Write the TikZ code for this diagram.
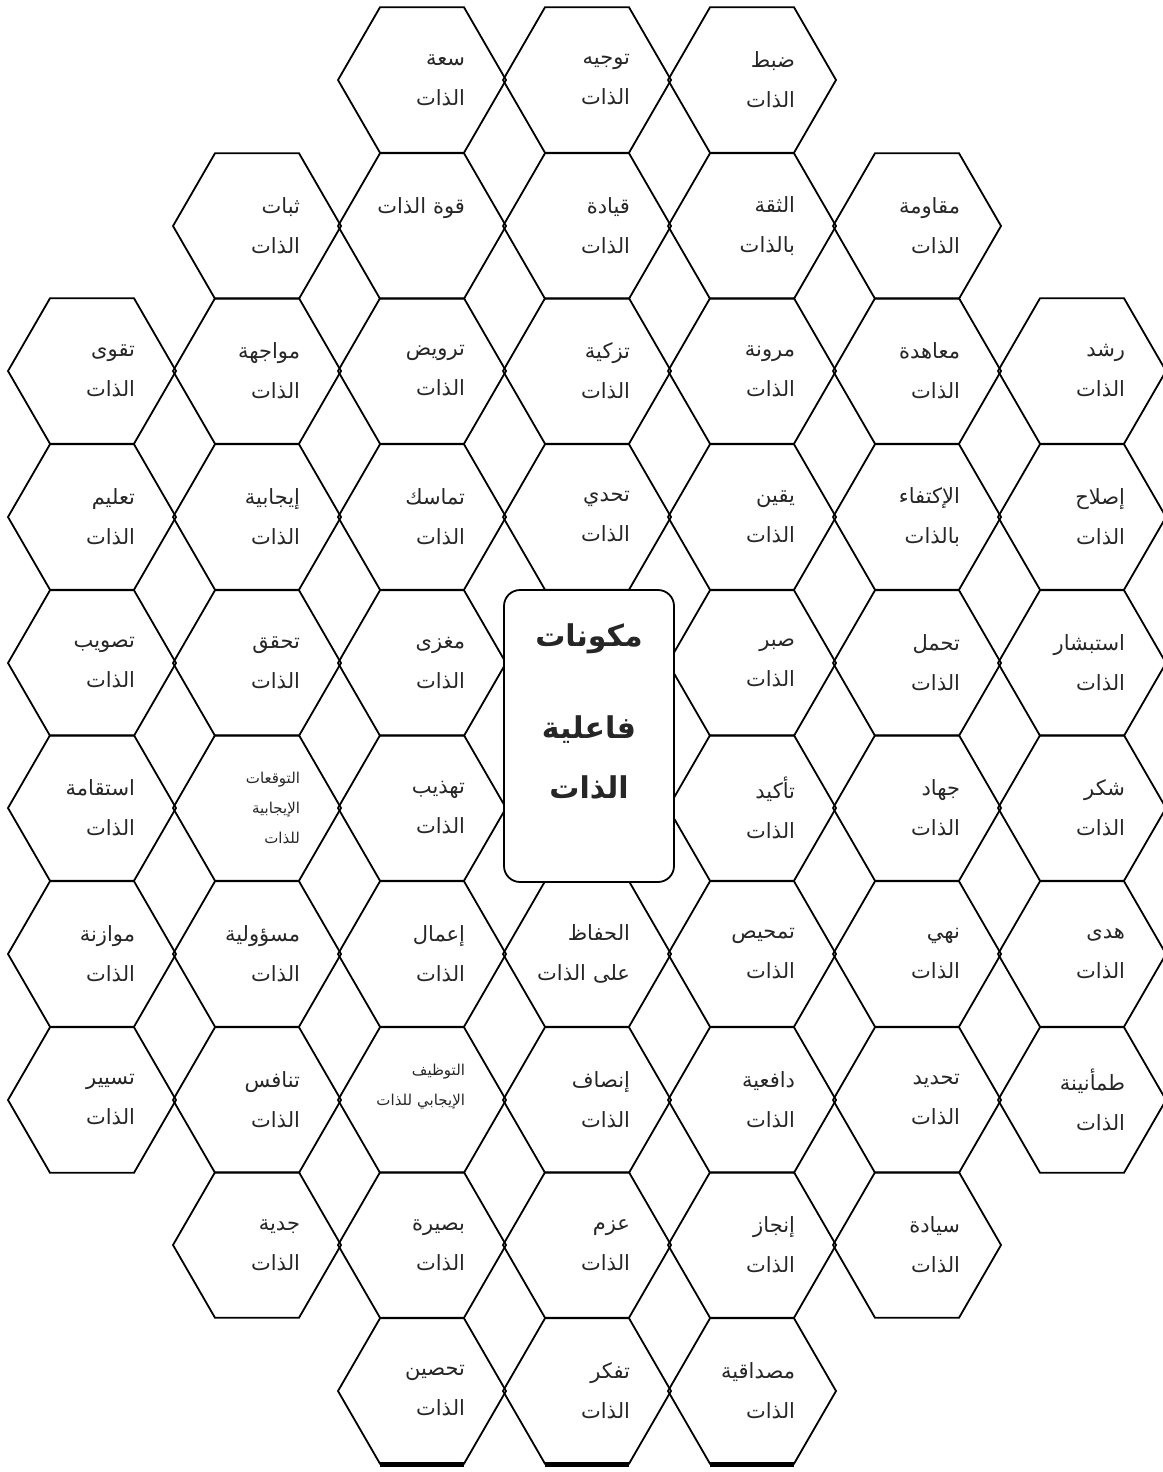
\documentclass[tikz,border=0pt]{standalone}
\usepackage{fontspec}
\usepackage{tikz}
\usetikzlibrary{shapes.geometric}
\TeXXeTstate=1
\newfontfamily\arfont[Script=Arabic]{DejaVu Sans}
% one right-to-left line, right edge fixed, long lines run out to the left
\newcommand{\artext}[1]{\makebox[43pt][r]{\beginR #1\endR}}
\newcommand{\arline}[1]{\beginR #1\endR}
\tikzset{
  hexcell/.style={regular polygon, regular polygon sides=6, minimum size=84pt,
    inner sep=0pt, draw=black, line width=0.9pt, text width=43pt, align=right,
    font=\arfont\fontsize{10.5}{20}\selectfont, text=black!85},
  smallcell/.style={hexcell, font=\arfont\fontsize{7.5}{15}\selectfont},
  baseedge/.style={line width=2.2pt, color=black},
  corebox/.style={rectangle, rounded corners=8pt, draw=black, line width=0.9pt,
    fill=white, minimum width=85pt, minimum height=146pt},
  coretext/.style={align=center, text=black!85,
    font=\arfont\bfseries\fontsize{15}{30}\selectfont}
}

\begin{document}
\begin{tikzpicture}[x=0.5pt, y=-0.5pt]
  \useasboundingbox (0,0) rectangle (1162,1472);

  % Row 1
  \node[hexcell] (capacity) at (422,80) {\artext{سعة}\\\artext{الذات}};
  \node[hexcell] (direction) at (587,80) {\artext{توجيه}\\\artext{الذات}};
  \node[hexcell] (control) at (752,80) {\artext{ضبط}\\\artext{الذات}};

  % Row 2
  \node[hexcell] (stability) at (257,226) {\artext{ثبات}\\\artext{الذات}};
  \node[hexcell] (strength) at (422,226) {\artext{قوة الذات}\\\mbox{}};
  \node[hexcell] (leadership) at (587,226) {\artext{قيادة}\\\artext{الذات}};
  \node[hexcell] (confidence) at (752,226) {\artext{الثقة}\\\artext{بالذات}};
  \node[hexcell] (resistance) at (917,226) {\artext{مقاومة}\\\artext{الذات}};

  % Row 3
  \node[hexcell] (piety) at (92,371) {\artext{تقوى}\\\artext{الذات}};
  \node[hexcell] (facing) at (257,371) {\artext{مواجهة}\\\artext{الذات}};
  \node[hexcell] (taming) at (422,371) {\artext{ترويض}\\\artext{الذات}};
  \node[hexcell] (purifying) at (587,371) {\artext{تزكية}\\\artext{الذات}};
  \node[hexcell] (flexibility) at (752,371) {\artext{مرونة}\\\artext{الذات}};
  \node[hexcell] (covenant) at (917,371) {\artext{معاهدة}\\\artext{الذات}};
  \node[hexcell] (maturity) at (1082,371) {\artext{رشد}\\\artext{الذات}};

  % Row 4
  \node[hexcell] (learning) at (92,517) {\artext{تعليم}\\\artext{الذات}};
  \node[hexcell] (positivity) at (257,517) {\artext{إيجابية}\\\artext{الذات}};
  \node[hexcell] (cohesion) at (422,517) {\artext{تماسك}\\\artext{الذات}};
  \node[hexcell] (challenge) at (587,517) {\artext{تحدي}\\\artext{الذات}};
  \node[hexcell] (certainty) at (752,517) {\artext{يقين}\\\artext{الذات}};
  \node[hexcell] (sufficiency) at (917,517) {\artext{الإكتفاء}\\\artext{بالذات}};
  \node[hexcell] (reform) at (1082,517) {\artext{إصلاح}\\\artext{الذات}};

  % Row 5
  \node[hexcell] (correction) at (92,663) {\artext{تصويب}\\\artext{الذات}};
  \node[hexcell] (fulfilment) at (257,663) {\artext{تحقق}\\\artext{الذات}};
  \node[hexcell] (meaning) at (422,663) {\artext{مغزى}\\\artext{الذات}};
  \node[hexcell] (patience) at (752,663) {\artext{صبر}\\\artext{الذات}};
  \node[hexcell] (endurance) at (917,663) {\artext{تحمل}\\\artext{الذات}};
  \node[hexcell] (optimism) at (1082,663) {\artext{استبشار}\\\artext{الذات}};

  % Row 6
  \node[hexcell] (integrity) at (92,808) {\artext{استقامة}\\\artext{الذات}};
  \node[smallcell] (expectations) at (257,808) {\artext{التوقعات}\\\artext{الإيجابية}\\\artext{للذات}};
  \node[hexcell] (refinement) at (422,808) {\artext{تهذيب}\\\artext{الذات}};
  \node[hexcell] (assertion) at (752,808) {\artext{تأكيد}\\\artext{الذات}};
  \node[hexcell] (struggle) at (917,808) {\artext{جهاد}\\\artext{الذات}};
  \node[hexcell] (gratitude) at (1082,808) {\artext{شكر}\\\artext{الذات}};

  % Row 7
  \node[hexcell] (balance) at (92,954) {\artext{موازنة}\\\artext{الذات}};
  \node[hexcell] (responsibility) at (257,954) {\artext{مسؤولية}\\\artext{الذات}};
  \node[hexcell] (activation) at (422,954) {\artext{إعمال}\\\artext{الذات}};
  \node[hexcell] (preserving) at (587,954) {\artext{الحفاظ}\\\artext{على الذات}};
  \node[hexcell] (scrutiny) at (752,954) {\artext{تمحيص}\\\artext{الذات}};
  \node[hexcell] (restraint) at (917,954) {\artext{نهي}\\\artext{الذات}};
  \node[hexcell] (guidance) at (1082,954) {\artext{هدى}\\\artext{الذات}};

  % Row 8
  \node[hexcell] (steering) at (92,1100) {\artext{تسيير}\\\artext{الذات}};
  \node[hexcell] (competition) at (257,1100) {\artext{تنافس}\\\artext{الذات}};
  \node[smallcell] (employment) at (422,1100) {\artext{التوظيف}\\\artext{الإيجابي للذات}\\\mbox{}};
  \node[hexcell] (fairness) at (587,1100) {\artext{إنصاف}\\\artext{الذات}};
  \node[hexcell] (motivation) at (752,1100) {\artext{دافعية}\\\artext{الذات}};
  \node[hexcell] (defining) at (917,1100) {\artext{تحديد}\\\artext{الذات}};
  \node[hexcell] (serenity) at (1082,1100) {\artext{طمأنينة}\\\artext{الذات}};

  % Row 9
  \node[hexcell] (seriousness) at (257,1245) {\artext{جدية}\\\artext{الذات}};
  \node[hexcell] (insight) at (422,1245) {\artext{بصيرة}\\\artext{الذات}};
  \node[hexcell] (resolve) at (587,1245) {\artext{عزم}\\\artext{الذات}};
  \node[hexcell] (achievement) at (752,1245) {\artext{إنجاز}\\\artext{الذات}};
  \node[hexcell] (sovereignty) at (917,1245) {\artext{سيادة}\\\artext{الذات}};

  % Row 10
  \node[hexcell] (fortifying) at (422,1391) {\artext{تحصين}\\\artext{الذات}};
  \node[hexcell] (reflection) at (587,1391) {\artext{تفكر}\\\artext{الذات}};
  \node[hexcell] (credibility) at (752,1391) {\artext{مصداقية}\\\artext{الذات}};

  % heavier bottom edges
  \draw[baseedge] ([xshift=-21pt]fortifying.south) -- ([xshift=21pt]fortifying.south);
  \draw[baseedge] ([xshift=-21pt]reflection.south) -- ([xshift=21pt]reflection.south);
  \draw[baseedge] ([xshift=-21pt]credibility.south) -- ([xshift=21pt]credibility.south);

  % Centre
  \node[corebox] (core) at (589,736) {};
  \node[coretext] (core_text) at (589,711) {\arline{مكونات}\\[16pt]\arline{فاعلية}\\\arline{الذات}};
\end{tikzpicture}
\end{document}
